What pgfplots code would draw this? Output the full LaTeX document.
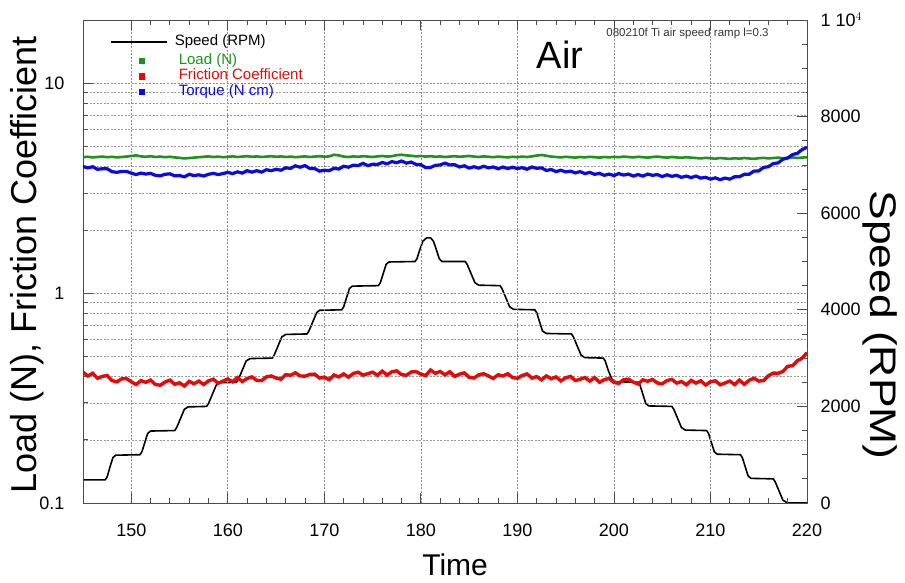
\documentclass[border=0pt]{standalone}
\usepackage{fontspec}
\setmainfont{Liberation Sans}
\usepackage{pgfplots}
\pgfplotsset{compat=1.18}
\definecolor{loadg}{RGB}{30,145,30}
\definecolor{fricr}{RGB}{228,10,10}
\definecolor{torqb}{RGB}{10,10,225}
\begin{document}
\begin{tikzpicture}
\useasboundingbox (-83pt,-79pt) rectangle (822pt,503pt);
% right axis: speed
\begin{axis}[
  at={(0pt,0pt)}, anchor=south west,
  scale only axis, width=724pt, height=483pt,
  xmin=145, xmax=220, ymin=0, ymax=10000,
  axis x line=none, axis y line*=right,
  axis line style={black!70, line width=0.8pt},
  scaled y ticks=false,
  ytick={0,2000,4000,6000,8000,10000},
  yticklabels={0,2000,4000,6000,8000,{1 10$^{4}$}},
  minor y tick num=3,
  ytick pos=right, yticklabel pos=right,
  major tick length=10pt, minor tick length=5pt,
  tick style={black!70, line width=0.8pt},
  tick label style={font=\fontsize{18}{18}\selectfont},
  yticklabel style={xshift=10pt},
  every axis y label/.style={at={(axis description cs:1.1008,0.3685)}, rotate=-90, xscale=1.2, anchor=center, font=\fontsize{37}{37}\selectfont},
  ylabel={Speed (RPM)},
]
\addplot[black, line width=1.6pt] coordinates {
(145,480)(147.3,480)(147.5,540)(147.8,750)(148.1,940)(148.4,990)(150.9,1000)
(151.1,1060)(151.4,1250)(151.7,1440)(152.0,1490)(154.5,1500)
(154.7,1560)(155.1,1750)(155.5,1940)(155.9,1990)(157.8,2000)
(158.0,2060)(158.4,2250)(158.8,2440)(159.2,2490)(160.9,2500)
(161.1,2560)(161.5,2750)(161.9,2940)(162.3,2990)(164.6,3000)
(164.8,3060)(165.2,3250)(165.6,3440)(166.0,3490)(168.2,3500)
(168.4,3560)(168.8,3750)(169.2,3940)(169.5,3990)(171.8,4000)
(172.0,4060)(172.3,4250)(172.6,4440)(172.9,4490)(175.6,4500)
(175.8,4560)(176.1,4750)(176.4,4940)(176.7,4990)(179.4,5000)
(179.6,5060)(179.9,5250)(180.2,5420)(180.6,5490)(181.0,5490)(181.3,5420)
(181.6,5250)(181.9,5060)(182.2,5000)(184.6,5000)
(184.8,4940)(185.2,4750)(185.6,4560)(186.0,4510)(188.2,4500)
(188.4,4440)(188.8,4250)(189.2,4060)(189.6,4010)(191.8,4000)
(192.0,3940)(192.3,3750)(192.6,3560)(193.0,3510)(195.6,3500)
(195.8,3440)(196.2,3250)(196.6,3060)(197.0,3010)(198.9,3000)
(199.1,2940)(199.4,2750)(199.8,2560)(200.2,2510)(202.5,2500)
(202.7,2440)(203.0,2250)(203.3,2060)(203.6,2010)(206.0,2000)
(206.2,1940)(206.6,1750)(207.0,1560)(207.4,1510)(209.6,1500)
(209.8,1440)(210.1,1250)(210.4,1060)(210.7,1010)(213.1,1000)
(213.3,940)(213.6,750)(213.9,560)(214.2,510)(216.5,500)
(216.7,440)(217.1,250)(217.5,60)(217.9,10)(218.2,0)(220,0)
};
\end{axis}
% left axis: load, friction, torque
\begin{axis}[
  at={(0pt,0pt)}, anchor=south west,
  scale only axis, width=724pt, height=483pt,
  xmin=145, xmax=220, ymode=log, ymin=0.1, ymax=20,
  axis line style={black!70, line width=0.8pt},
  xtick={150,160,...,220},
  xticklabels={150,160,170,180,190,200,210,220},
  minor x tick num=4,
  xtick pos=both, xticklabel pos=lower,
  ytick={0.1,1,10}, yticklabels={0.1,1,10},
  ytick pos=left,
  major tick length=10pt, minor tick length=5pt,
  tick style={black!70, line width=0.8pt},
  tick label style={font=\fontsize{18}{18}\selectfont},
  xticklabel style={yshift=-17pt},
  yticklabel style={xshift=-15pt},
  xmajorgrids, ymajorgrids, yminorgrids,
  major grid style={black!45, dash pattern=on 2pt off 1.5pt, line width=0.7pt},
  minor grid style={black!40, dash pattern=on 2pt off 1.5pt, line width=0.6pt},
  every axis x label/.style={at={(axis description cs:0.514,-0.128)}, anchor=center, font=\fontsize{30}{30}\selectfont},
  every axis y label/.style={at={(axis description cs:-0.0773,0.4928)}, rotate=90, anchor=center, font=\fontsize{36}{36}\selectfont},
  xlabel={Time},
  ylabel={Load (N), Friction Coefficient},
  legend style={at={(axis description cs:0.032,0.975)}, anchor=north west, draw=none, fill=none,
    font=\fontsize{15}{15}\selectfont, row sep=0pt,
    nodes={inner sep=0pt, text height=11pt, text depth=4.5pt}},
  legend cell align=left,
]
\addlegendimage{legend image code/.code={\draw[black, line width=2pt] (0pt,0pt) -- (56pt,0pt); \path (0pt,-11pt) (62pt,4pt);}}
\addlegendentry{Speed (RPM)}
\addplot[loadg, line width=2.6pt, legend image code/.code={\fill[loadg] (29.5pt,-1.6pt) rectangle (32.7pt,1.6pt); \path (0pt,0pt) (62pt,0pt);}] coordinates {
(145,4.44)(145.5,4.46)(146,4.43)(146.5,4.45)(147,4.47)(147.5,4.44)(148,4.46)(148.5,4.43)(149,4.45)(149.5,4.47)
(150,4.50)(150.5,4.53)(151,4.48)(151.5,4.46)(152,4.49)(152.5,4.45)(153,4.47)(153.5,4.44)(154,4.46)(154.5,4.43)
(155,4.41)(155.5,4.38)(156,4.40)(156.5,4.42)(157,4.44)(157.5,4.46)(158,4.48)(158.5,4.45)(159,4.47)(159.5,4.44)
(160,4.46)(160.5,4.48)(161,4.45)(161.5,4.47)(162,4.49)(162.5,4.46)(163,4.48)(163.5,4.45)(164,4.47)(164.5,4.49)
(165,4.46)(165.5,4.48)(166,4.45)(166.5,4.47)(167,4.44)(167.5,4.46)(168,4.48)(168.5,4.45)(169,4.47)(169.5,4.49)
(170,4.46)(170.5,4.48)(171,4.56)(171.5,4.53)(172,4.47)(172.5,4.45)(173,4.48)(173.5,4.46)(174,4.49)(174.5,4.47)
(175,4.45)(175.5,4.48)(176,4.50)(176.5,4.47)(177,4.49)(177.5,4.54)(178,4.56)(178.5,4.53)(179,4.51)(179.5,4.48)
(180,4.50)(180.5,4.47)(181,4.49)(181.5,4.46)(182,4.48)(182.5,4.45)(183,4.47)(183.5,4.49)(184,4.46)(184.5,4.48)
(185,4.50)(185.5,4.47)(186,4.45)(186.5,4.48)(187,4.46)(187.5,4.44)(188,4.47)(188.5,4.45)(189,4.43)(189.5,4.46)
(190,4.44)(190.5,4.47)(191,4.45)(191.5,4.48)(192,4.52)(192.5,4.55)(193,4.51)(193.5,4.47)(194,4.45)(194.5,4.43)
(195,4.46)(195.5,4.44)(196,4.42)(196.5,4.45)(197,4.43)(197.5,4.46)(198,4.44)(198.5,4.42)(199,4.45)(199.5,4.43)
(200,4.46)(200.5,4.44)(201,4.47)(201.5,4.45)(202,4.43)(202.5,4.46)(203,4.44)(203.5,4.42)(204,4.45)(204.5,4.47)
(205,4.44)(205.5,4.42)(206,4.45)(206.5,4.43)(207,4.41)(207.5,4.44)(208,4.42)(208.5,4.40)(209,4.38)(209.5,4.41)
(210,4.39)(210.5,4.37)(211,4.40)(211.5,4.38)(212,4.36)(212.5,4.39)(213,4.37)(213.5,4.40)(214,4.38)(214.5,4.36)
(215,4.39)(215.5,4.41)(216,4.38)(216.5,4.40)(217,4.42)(217.5,4.39)(218,4.41)(218.5,4.43)(219,4.40)(219.5,4.42)
(220,4.44)
};
\addlegendentry{\hspace{4pt}\textcolor{loadg}{Load (N)}}
\addplot[fricr, line width=3.4pt, legend image code/.code={\fill[fricr] (29.5pt,-1.6pt) rectangle (32.7pt,1.6pt); \path (0pt,0pt) (62pt,0pt);}] coordinates {
(145,0.420)(145.5,0.403)(146,0.415)(146.5,0.393)(147,0.401)(147.5,0.405)(148,0.383)(148.5,0.378)(149,0.390)(149.5,0.392)
(150,0.378)(150.5,0.367)(151,0.383)(151.5,0.376)(152,0.385)(152.5,0.367)(153,0.364)(153.5,0.377)(154,0.385)(154.5,0.368)
(155,0.374)(155.5,0.361)(156,0.380)(156.5,0.370)(157,0.381)(157.5,0.367)(158,0.382)(158.5,0.389)(159,0.372)(159.5,0.381)
(160,0.390)(160.5,0.378)(161,0.396)(161.5,0.379)(162,0.392)(162.5,0.399)(163,0.384)(163.5,0.383)(164,0.399)(164.5,0.403)
(165,0.394)(165.5,0.389)(166,0.409)(166.5,0.406)(167,0.417)(167.5,0.403)(168,0.402)(168.5,0.410)(169,0.411)(169.5,0.394)
(170,0.398)(170.5,0.387)(171,0.407)(171.5,0.399)(172,0.412)(172.5,0.398)(173,0.414)(173.5,0.420)(174,0.407)(174.5,0.413)
(175,0.420)(175.5,0.406)(176,0.425)(176.5,0.407)(177,0.422)(177.5,0.426)(178,0.409)(178.5,0.406)(179,0.421)(179.5,0.423)
(180,0.411)(180.5,0.405)(181,0.430)(181.5,0.415)(182,0.423)(182.5,0.408)(183,0.422)(183.5,0.401)(184,0.411)(184.5,0.417)
(185,0.397)(185.5,0.394)(186,0.408)(186.5,0.413)(187,0.403)(187.5,0.392)(188,0.408)(188.5,0.403)(189,0.413)(189.5,0.396)
(190,0.393)(190.5,0.405)(191,0.412)(191.5,0.394)(192,0.400)(192.5,0.386)(193,0.403)(193.5,0.391)(194,0.399)(194.5,0.382)
(195,0.395)(195.5,0.401)(196,0.383)(196.5,0.389)(197,0.396)(197.5,0.381)(198,0.396)(198.5,0.376)(199,0.387)(199.5,0.392)
(200,0.375)(200.5,0.372)(201,0.387)(201.5,0.389)(202,0.377)(202.5,0.369)(203,0.386)(203.5,0.380)(204,0.388)(204.5,0.373)
(205,0.370)(205.5,0.383)(206,0.388)(206.5,0.373)(207,0.379)(207.5,0.366)(208,0.384)(208.5,0.373)(209,0.382)(209.5,0.365)
(210,0.378)(210.5,0.382)(211,0.366)(211.5,0.373)(212,0.381)(212.5,0.367)(213,0.385)(213.5,0.368)(214,0.384)(214.5,0.393)
(215,0.381)(215.5,0.383)(216,0.404)(216.5,0.416)(217,0.415)(217.5,0.423)(218,0.448)(218.5,0.451)(219,0.476)(219.5,0.490)
(220,0.520)
};
\addlegendentry{\hspace{4pt}\textcolor{fricr}{Friction Coefficient}}
\addplot[torqb, line width=3.2pt, legend image code/.code={\fill[torqb] (29.5pt,-1.6pt) rectangle (32.7pt,1.6pt); \path (0pt,0pt) (62pt,0pt);}] coordinates {
(145,4.01)(145.5,3.95)(146,4.00)(146.5,3.89)(147,3.91)(147.5,3.91)(148,3.79)(148.5,3.76)(149,3.80)(149.5,3.80)
(150,3.73)(150.5,3.67)(151,3.73)(151.5,3.69)(152,3.72)(152.5,3.64)(153,3.62)(153.5,3.68)(154,3.70)(154.5,3.62)
(155,3.63)(155.5,3.58)(156,3.68)(156.5,3.63)(157,3.66)(157.5,3.61)(158,3.68)(158.5,3.72)(159,3.67)(159.5,3.71)
(160,3.76)(160.5,3.71)(161,3.78)(161.5,3.73)(162,3.83)(162.5,3.77)(163,3.83)(163.5,3.77)(164,3.87)(164.5,3.83)
(165,3.89)(165.5,3.85)(166,3.95)(166.5,3.93)(167,4.04)(167.5,3.98)(168,4.05)(168.5,3.92)(169,3.92)(169.5,3.81)
(170,3.85)(170.5,3.83)(171,3.93)(171.5,3.90)(172,4.02)(172.5,3.98)(173,4.07)(173.5,4.05)(174,4.15)(174.5,4.05)
(175,4.11)(175.5,4.10)(176,4.19)(176.5,4.13)(177,4.23)(177.5,4.18)(178,4.26)(178.5,4.16)(179,4.21)(179.5,4.10)
(180,4.09)(180.5,3.96)(181,3.97)(181.5,4.06)(182,4.08)(182.5,4.16)(183,4.08)(183.5,4.09)(184,3.99)(184.5,4.04)
(185,3.94)(185.5,4.00)(186,3.94)(186.5,4.02)(187,3.95)(187.5,3.99)(188,3.91)(188.5,3.99)(189,3.92)(189.5,3.98)
(190,3.92)(190.5,3.96)(191,3.89)(191.5,3.99)(192,3.93)(192.5,3.95)(193,3.84)(193.5,3.88)(194,3.79)(194.5,3.85)
(195,3.78)(195.5,3.81)(196,3.74)(196.5,3.79)(197,3.71)(197.5,3.76)(198,3.68)(198.5,3.72)(199,3.64)(199.5,3.69)
(200,3.63)(200.5,3.71)(201,3.65)(201.5,3.69)(202,3.61)(202.5,3.67)(203,3.61)(203.5,3.69)(204,3.64)(204.5,3.67)
(205,3.59)(205.5,3.66)(206,3.60)(206.5,3.64)(207,3.56)(207.5,3.61)(208,3.55)(208.5,3.61)(209,3.53)(209.5,3.56)
(210,3.49)(210.5,3.54)(211,3.47)(211.5,3.53)(212,3.49)(212.5,3.58)(213,3.58)(213.5,3.68)(214,3.68)(214.5,3.81)
(215,3.82)(215.5,3.97)(216,4.00)(216.5,4.14)(217,4.17)(217.5,4.34)(218,4.40)(218.5,4.57)(219,4.63)(219.5,4.83)
(220,4.95)
};
\addlegendentry{\hspace{4pt}\textcolor{torqb}{Torque (N cm)}}
\node[anchor=center, font=\fontsize{38}{38}\selectfont] at (rel axis cs:0.659,0.9275) {Air};
\node[anchor=west, font=\fontsize{11.5}{11.5}\selectfont, text=black!80] at (rel axis cs:0.718,0.973) {080210f Ti air speed ramp l=0.3};
\end{axis}
\end{tikzpicture}
\end{document}
